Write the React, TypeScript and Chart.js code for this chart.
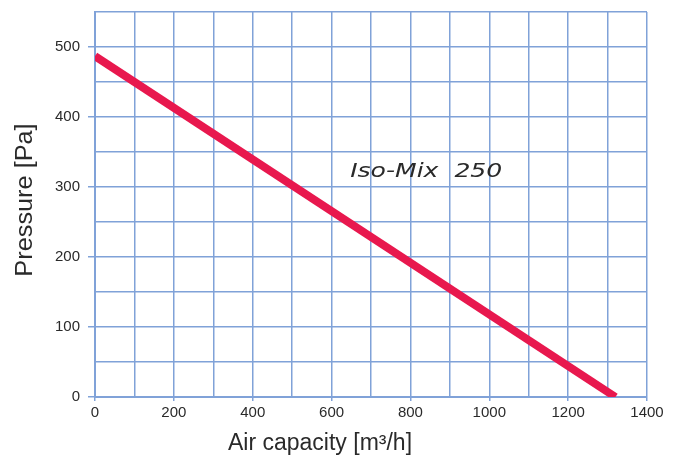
import React, { useEffect, useRef } from "react";
import { Chart, registerables } from "chart.js";

Chart.register(...registerables);

const airCapacity: number[] = [0, 1320];
const pressure: number[] = [487, 0];
const seriesLabel = "Iso-Mix  250";
const xTitle = "Air capacity [m³/h]";
const yTitle = "Pressure [Pa]";
const labelAt = { x: 840, y: 321 };

const GRID = "#80a2d8";
const LINE = "#e8184e";
const TEXT = "#2a2a2a";

const textPlugin = {
  id: "texts",
  afterDatasetsDraw(chart: any) {
    const { ctx, scales, chartArea } = chart;
    const px = scales.x.getPixelForValue(labelAt.x);
    const py = scales.y.getPixelForValue(labelAt.y);
    ctx.save();
    ctx.font = 'italic 19px "DejaVu Sans"';
    ctx.fillStyle = TEXT;
    ctx.textAlign = "center";
    ctx.textBaseline = "middle";
    ctx.translate(px, py);
    ctx.scale(1.32, 1);
    ctx.fillText(seriesLabel, 0, 0);
    ctx.restore();

    // axis titles
    ctx.save();
    ctx.fillStyle = TEXT;
    ctx.font = '23px "Liberation Sans"';
    ctx.textAlign = "center";
    ctx.textBaseline = "alphabetic";
    ctx.fillText(xTitle, chartArea.left + 225, chartArea.bottom + 53);
    ctx.restore();

    ctx.save();
    ctx.fillStyle = TEXT;
    ctx.font = '23px "Liberation Sans"';
    ctx.textAlign = "center";
    ctx.textBaseline = "alphabetic";
    ctx.translate(chartArea.left - 63, 200);
    ctx.rotate(-Math.PI / 2);
    ctx.scale(1.1, 1);
    ctx.fillText(yTitle, 0, 0);
    ctx.restore();
  },
};

export default function App() {
  const ref = useRef<HTMLCanvasElement | null>(null);
  useEffect(() => {
    if (!ref.current) return;
    const chart = new Chart(ref.current, {
      type: "scatter",
      data: {
        datasets: [
          {
            label: seriesLabel,
            data: airCapacity.map((x, i) => ({ x, y: pressure[i] })),
            showLine: true,
            borderColor: LINE,
            borderWidth: 8,
            pointRadius: 0,
            borderCapStyle: "butt",
            clip: 0,
          } as any,
        ],
      },
      options: {
        animation: false,
        responsive: true,
        maintainAspectRatio: false,
        layout: { padding: { left: 0, top: 12, right: 34, bottom: 0 } },
        plugins: { legend: { display: false }, tooltip: { enabled: false } },
        scales: {
          x: {
            type: "linear",
            min: 0,
            max: 1400,
            ticks: {
              stepSize: 100,
              color: TEXT,
              font: { family: "Liberation Sans", size: 15 },
              maxRotation: 0,
              autoSkip: false,
              padding: 3,
              callback: (v: any) => (Number(v) % 200 === 0 ? String(v) : ""),
            },
            grid: {
              color: GRID,
              lineWidth: 1.5,
              tickLength: 4,
              tickColor: (c: any) => (c.tick && c.tick.value % 200 === 0 ? GRID : "rgba(0,0,0,0)"),
            },
            border: { color: GRID, width: 2 },
            afterFit: (s: any) => {
              s.height = 60;
              s.paddingLeft = 0;
              s.paddingRight = 0;
            },
          },
          y: {
            type: "linear",
            min: 0,
            max: 550,
            ticks: {
              stepSize: 50,
              color: TEXT,
              font: { family: "Liberation Sans", size: 15 },
              autoSkip: false,
              padding: 8,
              callback: (v: any) => (Number(v) % 100 === 0 ? String(v) : ""),
            },
            grid: {
              color: GRID,
              lineWidth: 1.5,
              tickLength: 7,
              tickColor: (c: any) => (c.tick && c.tick.value % 100 === 0 ? GRID : "rgba(0,0,0,0)"),
            },
            border: { color: GRID, width: 2 },
            afterFit: (s: any) => {
              s.width = 95;
              s.paddingTop = 0;
              s.paddingBottom = 0;
            },
          },
        },
      },
      plugins: [textPlugin],
    });
    return () => chart.destroy();
  }, []);
  return (
    <div style={{ position: "absolute", left: 0, top: 0, width: 681, height: 457, background: "#fff" }}>
      <canvas ref={ref} />
    </div>
  );
}
